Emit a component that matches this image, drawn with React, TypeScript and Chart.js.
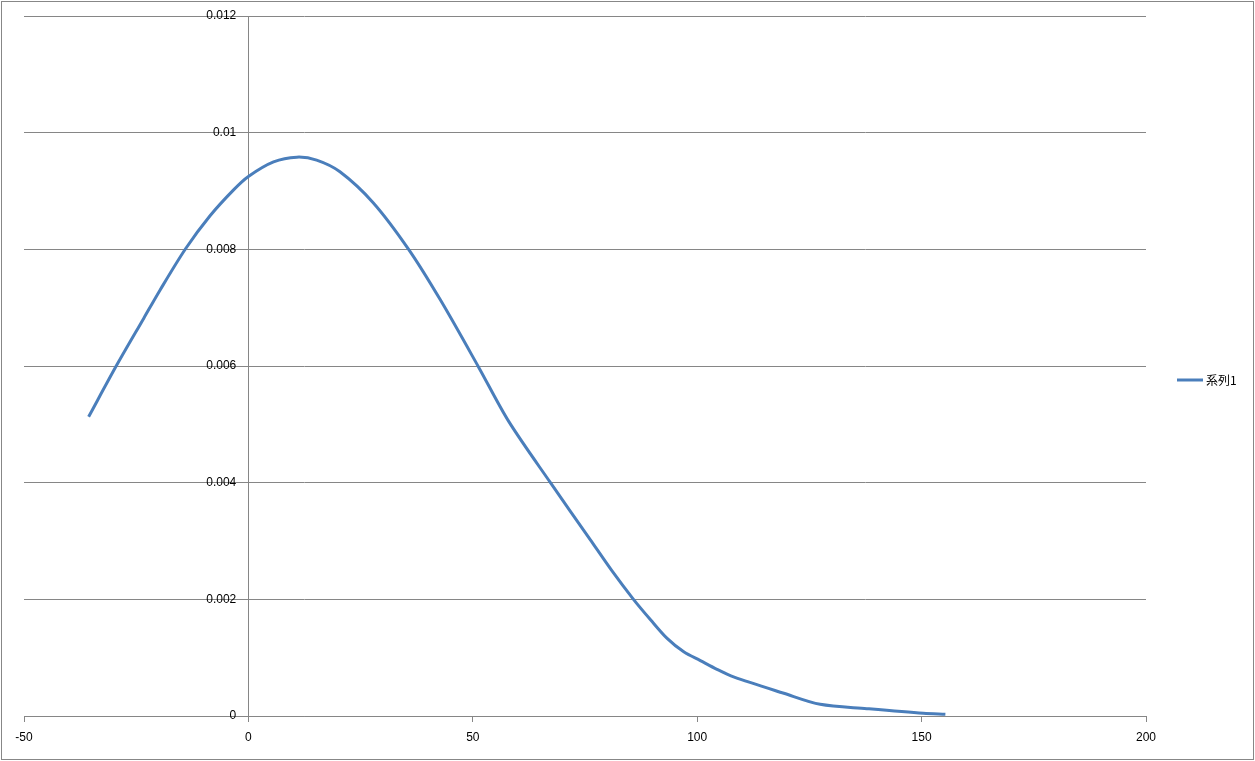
import { useEffect, useRef } from 'react';
import { Chart, registerables } from 'chart.js';

Chart.register(...registerables);

const seriesName = '系列1';
const xValues = [
  -35.6, -29.3, -23.3, -19.7, -14.0, -8.5, -3.3, 0, 5.6, 10.8, 15.2, 20.4, 27.8, 35.7, 42.8, 51.3, 58.0,
  67.3, 76.2, 80.9, 85.8, 89.6, 93.3, 97.0, 100.7, 104.4, 108.1, 119.3, 127.4, 137.8, 150.4, 155.3,
];
const yValues = [
  0.00513, 0.00602, 0.00682, 0.0073, 0.00801, 0.00858, 0.00902, 0.00925, 0.0095, 0.00958, 0.00953,
  0.00933, 0.0088, 0.008, 0.00713, 0.00598, 0.00505, 0.004, 0.00302, 0.0025, 0.002, 0.00165, 0.00133,
  0.0011, 0.00095, 0.0008, 0.00067, 0.00039, 0.0002, 0.000126, 0.000046, 0.00003,
];
const xMin = -50;
const xMax = 200;
const xStep = 50;
const yMin = 0;
const yMax = 0.012;
const yStep = 0.002;
const yLabelAnchorX = -2.7;

const lineColor = '#4A7EBB';
const gridColor = '#868686';
const labelFont = { family: '"Liberation Sans", Arial, sans-serif', size: 12 };

export default function App() {
  const canvasRef = useRef<HTMLCanvasElement | null>(null);

  useEffect(() => {
    const canvas = canvasRef.current;
    if (!canvas) return;

    const frame = {
      id: 'frame',
      beforeDraw(chart: any) {
        const ctx = chart.ctx;
        ctx.save();
        ctx.fillStyle = '#ffffff';
        ctx.fillRect(0, 0, chart.width, chart.height);
        ctx.strokeStyle = '#878787';
        ctx.lineWidth = 1;
        ctx.strokeRect(1.5, 1.5, chart.width - 3, chart.height - 3);
        ctx.restore();
      },
    };

    const customLegend = {
      id: 'customLegend',
      afterDraw(chart: any) {
        const ctx = chart.ctx;
        const area = chart.chartArea;
        const ds = chart.data.datasets[0];
        const y = (area.top + area.bottom) / 2 + 14;
        const x0 = area.right + 31;
        ctx.save();
        ctx.strokeStyle = ds.borderColor;
        ctx.lineWidth = 3;
        ctx.beginPath();
        ctx.moveTo(x0, y);
        ctx.lineTo(x0 + 26, y);
        ctx.stroke();
        ctx.fillStyle = '#000000';
        ctx.font = '12px "Noto Sans CJK JP", sans-serif';
        ctx.textBaseline = 'middle';
        ctx.textAlign = 'left';
        ctx.fillText(ds.label, x0 + 29, y);
        ctx.restore();
      },
    };

    const chart = new Chart(canvas, {
      type: 'scatter',
      data: {
        datasets: [
          {
            label: seriesName,
            data: xValues.map((x, i) => ({ x, y: yValues[i] })),
            showLine: true,
            borderColor: lineColor,
            backgroundColor: lineColor,
            borderWidth: 3,
            pointRadius: 0,
            tension: 0.3,
          },
        ],
      },
      options: {
        animation: false,
        responsive: false,
        layout: { padding: { left: 24, top: 16, right: 109, bottom: 45 } },
        plugins: {
          legend: { display: false },
          tooltip: { enabled: false },
        },
        scales: {
          x: {
            type: 'linear',
            position: { y: 0 },
            min: xMin,
            max: xMax,
            ticks: {
              stepSize: xStep,
              color: '#000000',
              font: labelFont,
              padding: 9,
            },
            grid: {
              drawOnChartArea: false,
              drawTicks: true,
              tickLength: 5,
              color: gridColor,
            },
            border: { color: gridColor, width: 1 },
          },
          y: {
            type: 'linear',
            position: { x: 0 },
            min: yMin,
            max: yMax,
            ticks: { stepSize: yStep, display: false },
            grid: { drawTicks: false, color: gridColor },
            border: { color: gridColor, width: 1 },
          },
          yLabels: {
            type: 'linear',
            axis: 'y',
            position: { x: yLabelAnchorX },
            min: yMin,
            max: yMax,
            ticks: {
              stepSize: yStep,
              color: '#000000',
              font: labelFont,
              callback: (v: any) => String(Number(Number(v).toFixed(3))),
            },
            grid: { display: false, drawTicks: false },
            border: { display: false },
          },
        },
      } as any,
      plugins: [frame, customLegend],
    });

    return () => chart.destroy();
  }, []);

  return (
    <div style={{ position: 'absolute', left: 0, top: 0, width: 1255, height: 761 }}>
      <canvas ref={canvasRef} width={1255} height={761} style={{ display: 'block' }} />
    </div>
  );
}
